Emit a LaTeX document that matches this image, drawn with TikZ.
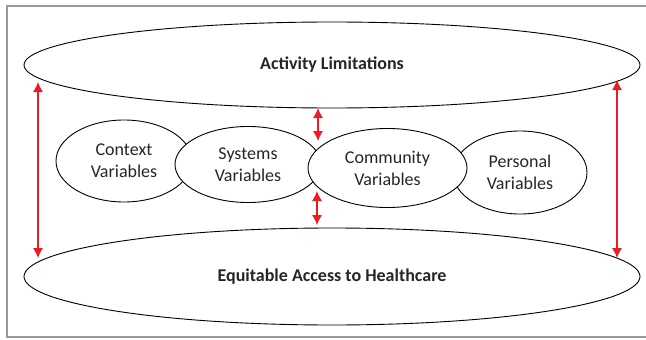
\documentclass[tikz,border=0pt]{standalone}
\usepackage{fontspec}
\setmainfont{Carlito}
\usetikzlibrary{shapes.geometric,arrows.meta}
\definecolor{arrowred}{RGB}{237,28,36}
\begin{document}
\begin{tikzpicture}[x=1pt,y=-1pt,
  bigvar/.style={ellipse, draw, line width=0.9pt, fill=white, inner sep=0pt,
    font=\fontsize{18}{22}\selectfont\bfseries, text=black!85},
  var/.style={ellipse, draw, line width=0.9pt, fill=white, inner sep=0pt,
    align=center, font=\fontsize{18}{22}\selectfont, text=black!85},
  link/.style={arrowred, line width=1.1pt, {Latex[length=10pt,width=10pt]}-{Latex[length=10pt,width=10pt]}}]
\useasboundingbox (0,0) rectangle (646,340);
\begin{scope}
\clip (0,0) rectangle (646,340);
\draw[gray!80, line width=1.5pt] (7,6) rectangle (700,337);
\end{scope}
% outer ellipses
\node[bigvar, minimum width=616pt, minimum height=86pt] (limits) at (332,65) {Activity Limitations};
\node[bigvar, minimum width=616pt, minimum height=97pt] (access) at (332,276.5) {Equitable Access to Healthcare};
% the four variable groups
\foreach \name/\x/\y/\w/\h/\txt in {
  context/124/161/136/82/{Context\\Variables},
  systems/248/164.5/146/76/{Systems\\Variables},
  personal/520/172.5/134/83/{Personal\\Variables},
  community/387.5/168/159/79/{Community\\Variables}} {
\node[var, minimum width=\w pt, minimum height=\h pt] (\name) at (\x,\y) {\txt};
}
% arrows
\coordinate (lt) at (38,82);
\coordinate (lb) at (38,258);
\coordinate (rt) at (617,80);
\coordinate (rb) at (617,258);
\coordinate (mt) at (318,108);
\coordinate (mm) at (318,141);
\coordinate (nt) at (317,191);
\coordinate (nb) at (317,225);
\draw[link] (lt) -- (lb);
\draw[link] (rt) -- (rb);
\draw[link] (mt) -- (mm);
\draw[link] (nt) -- (nb);
\end{tikzpicture}
\end{document}
